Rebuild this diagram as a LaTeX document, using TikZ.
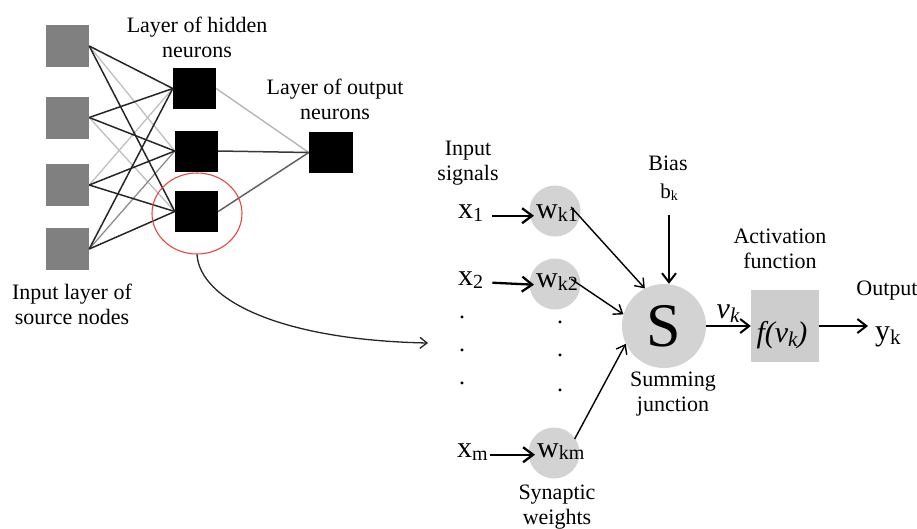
\documentclass[tikz,border=0pt]{standalone}
\usepackage{fontspec}
\setmainfont{Liberation Serif}
\usetikzlibrary{arrows.meta,shapes.geometric}
\newcommand{\fs}[1]{\fontsize{#1}{#1}\selectfont}
\definecolor{insq}{HTML}{808080}
\definecolor{wgray}{HTML}{D3D3D3}
\definecolor{boxgray}{HTML}{CDCDCD}
\definecolor{redc}{HTML}{E5483F}
\begin{document}
\begin{tikzpicture}[x=1pt,y=-1pt,
  lbl/.style={font=\fontsize{22}{25}\selectfont, align=center, inner sep=0pt},
  insquare/.style={rectangle, fill=insq, minimum width=43pt, minimum height=42pt, inner sep=0pt},
  hidsquare/.style={rectangle, fill=black, minimum width=43pt, minimum height=41pt, inner sep=0pt},
  wcircle/.style={circle, fill=wgray, minimum size=51pt, inner sep=0pt},
  mtext/.style={inner sep=0pt, anchor=base west},
  nnd/.style={draw=black!85, line width=1.5pt},
  nnm/.style={draw=black!45, line width=1.3pt},
  nnl/.style={draw=black!25, line width=1.3pt},
  xarr/.style={line width=2.3pt, -{Straight Barb[length=10pt,width=15pt]}},
  sarr/.style={line width=1.4pt, -{Straight Barb[length=8pt,width=12pt]}},
  barr/.style={line width=2pt, -{Straight Barb[length=9pt,width=14pt]}},
  dotn/.style={inner sep=0pt, font=\fs{24}}
]
\useasboundingbox (0,0) rectangle (917,528);

% ---------- left: network ----------
\node[insquare] (in1) at (67.5,46) {};
\node[insquare] (in2) at (67.5,117.5) {};
\node[insquare] (in3) at (67.5,185) {};
\node[insquare] (in4) at (67.5,249) {};
\node[hidsquare] (h1) at (194.5,88.5) {};
\node[hidsquare] (h2) at (196.5,151) {};
\node[hidsquare] (h3) at (196.5,211.5) {};
\node[rectangle, fill=black, minimum width=44pt, minimum height=41pt, inner sep=0pt] (out) at (331,152.5) {};

\draw[nnl] (in1.east) -- (h2.west);
\draw[nnl] (in2.east) -- (h3.west);
\draw[nnl] (in3.east) -- (h1.west);
\draw[nnm] (in4.east) -- (h2.west);
\draw[nnd] (in1.east) -- (h1.west);
\draw[nnd] (in1.east) -- (h3.west);
\draw[nnd] (in2.east) -- (h1.west);
\draw[nnd] (in2.east) -- (h2.west);
\draw[nnd] (in3.east) -- (h2.west);
\draw[nnd] (in3.east) -- (h3.west);
\draw[nnd] (in4.east) -- (h1.west);
\draw[nnd] (in4.east) -- (h3.west);

\draw[draw=black!30, line width=1.3pt] (h1.east) -- (out.west);
\draw[draw=black!78, line width=1.5pt] (h2.east) -- (out.west);
\draw[draw=black!62, line width=1.5pt] (h3.east) -- (out.west);

\node[ellipse, draw=redc, line width=1.1pt, minimum width=90pt, minimum height=81pt, inner sep=0pt] (redring) at (197,213.5) {};

\node[lbl] (lhid) at (197,37) {Layer of hidden\\neurons};
\node[lbl] (lout) at (335,99) {Layer of output\\neurons};
\node[lbl] (lin) at (72,304) {Input layer of\\source nodes};

\coordinate (ctip) at (428,343);
\draw[black!85, line width=1.3pt, -{Straight Barb[length=7pt,width=11pt]}]
  (redring.south) .. controls (200,300) and (280,340) .. (ctip);

% ---------- right: neuron model ----------
\node[lbl] (lsig) at (468,163) {Input\\signals};

\node[wcircle] (wc1) at (555,211) {};
\node[wcircle] (wc2) at (555,284) {};
\node[wcircle] (wcm) at (554,453) {};

\node[mtext] (x1) at (458,218) {\fs{30}x\raisebox{-3pt}{\fs{20}1}};
\node[mtext] (x2) at (458,285) {\fs{30}x\raisebox{-3pt}{\fs{20}2}};
\node[mtext] (xm) at (457,457) {\fs{30}x\raisebox{-3pt}{\fs{20}m}};

\node[mtext] (w1) at (536,218) {\fs{30}w\raisebox{-3pt}{\fs{20}k1}};
\node[mtext] (w2) at (536,287) {\fs{30}w\raisebox{-3pt}{\fs{20}k2}};
\node[mtext] (wm) at (537,457) {\fs{30}w\raisebox{-2pt}{\fs{20}km}};

\draw[xarr] ([xshift=9pt]x1.mid east) -- ([xshift=-2pt]w1.mid west);
\draw[xarr] ([xshift=9pt]x2.mid east) -- ([xshift=-2pt]w2.mid west);
\draw[xarr] ([xshift=2pt]xm.mid east) -- ([xshift=-2pt]wm.mid west);

\node[dotn] (dl1) at (462,317) {.};
\node[dotn] (dl2) at (462,350) {.};
\node[dotn] (dl3) at (462,383) {.};
\node[dotn] (dr1) at (560,322) {.};
\node[dotn] (dr2) at (560,355) {.};
\node[dotn] (dr3) at (560,390) {.};

\node[lbl] (lsyn) at (557,507) {Synaptic\\weights};

\node[circle, fill=wgray, minimum size=84pt, inner sep=0pt, font=\fs{62}] (S) at (664,326) {S};
\node[lbl] (lsum) at (673,394) {Summing\\junction};

\node[lbl] (bias) at (668,163) {Bias};
\node[inner sep=0pt, anchor=base] (bk) at (669,198) {\fs{21}b\raisebox{-2pt}{\fs{14}k}};
\draw[barr, shorten <=15pt] (bk.south) -- (bk.south |- S.north);

\draw[sarr] ([xshift=-7pt,yshift=-3pt]w1.north east) -- (S.117);
\draw[sarr] ([xshift=-7pt,yshift=-6pt]w2.north east) -- (S.164);
\draw[sarr] ([xshift=-10pt,yshift=4pt]wm.north east) -- (S.205);

\node[rectangle, fill=boxgray, minimum width=68pt, minimum height=72pt, inner sep=0pt] (act) at (785,326) {};
\node[inner sep=0pt] (fv) at (782,335) {\fs{30}\itshape f(v\raisebox{-4pt}{\fs{21}k})};
\node[lbl] (lact) at (780,249) {Activation\\function};

\draw[barr] (S.east) -- (act.west);
\node[inner sep=0pt, anchor=base] (vk) at (728,318) {\fs{30}\itshape v\raisebox{-4pt}{\fs{21}k}};

\node[mtext] (yk) at (875,340) {\fs{30}y\raisebox{-4pt}{\fs{21}k}};
\draw[barr, shorten >=7pt] (act.east) -- (act.east -| yk.west);
\node[lbl] (lo) at (887,291) {Output};
\end{tikzpicture}
\end{document}
